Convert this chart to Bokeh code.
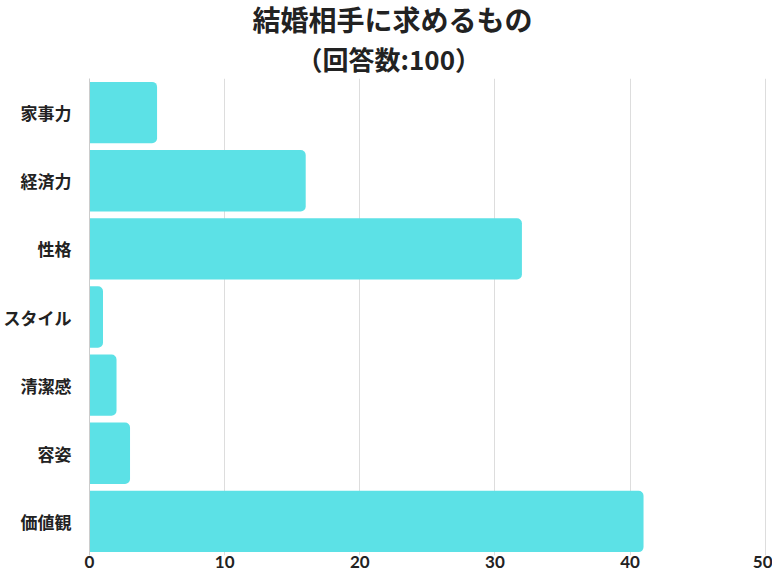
from bokeh.plotting import figure
from bokeh.models import Range1d, FactorRange, Title, FixedTicker, ColumnDataSource
from bokeh.embed import file_html
from bokeh.resources import INLINE

title_text = "結婚相手に求めるもの"
subtitle_text = "（回答数:100）"
categories = ["家事力", "経済力", "性格", "スタイル", "清潔感", "容姿", "価値観"]
values = [5, 16, 32, 1, 2, 3, 41]
x_ticks = [0, 10, 20, 30, 40, 50]

FONT = "Noto Sans CJK JP"
NUM_FONT = "Lato"

src = ColumnDataSource(data=dict(cat=categories, val=values))

W, H = 772, 577
TOP, BOTTOM, LEFT, RIGHT = 70, 22, 80, 6

p = figure(
    width=W, height=H,
    x_range=Range1d(0, 50.1),
    y_range=FactorRange(factors=list(reversed(categories))),
    output_backend="svg", toolbar_location=None,
    min_border_left=LEFT, min_border_right=RIGHT,
    min_border_top=TOP, min_border_bottom=BOTTOM,
)

t2 = Title(text=subtitle_text, align="left", offset=207, text_font=FONT,
           text_font_size="26px", text_font_style="bold", text_color="#222222",
           standoff=4)
t1 = Title(text=title_text, align="left", offset=163, text_font=FONT,
           text_font_size="28px", text_font_style="bold", text_color="#222222",
           standoff=-7)
p.add_layout(t2, "above")
p.add_layout(t1, "above")

p.hbar(y="cat", right="val", left=0, height=0.9, source=src,
       fill_color="#5CE1E6", line_color=None, border_radius=(0, 5, 5, 0))

p.outline_line_color = None
p.background_fill_color = "white"
p.border_fill_color = "white"

p.xgrid.ticker = FixedTicker(ticks=x_ticks)
p.xgrid.grid_line_color = "#dddddd"
p.xgrid.grid_line_width = 1
p.ygrid.grid_line_color = None

p.xaxis.ticker = FixedTicker(ticks=x_ticks)
p.xaxis.axis_line_color = None
p.xaxis.major_tick_line_color = None
p.xaxis.minor_tick_line_color = None
p.xaxis.major_tick_out = 0
p.xaxis.major_tick_in = 0
p.xaxis.major_label_text_font = NUM_FONT
p.xaxis.major_label_text_font_size = "17px"
p.xaxis.major_label_text_font_style = "bold"
p.xaxis.major_label_text_color = "#222222"
p.xaxis.major_label_standoff = 0

p.yaxis.axis_line_color = "#cccccc"
p.yaxis.major_tick_line_color = None
p.yaxis.minor_tick_line_color = None
p.yaxis.major_label_text_font = FONT
p.yaxis.major_label_text_font_size = "17px"
p.yaxis.major_label_text_font_style = "bold"
p.yaxis.major_label_text_color = "#222222"
p.yaxis.major_label_standoff = 12

open("out.html", "w").write(file_html(p, INLINE))
